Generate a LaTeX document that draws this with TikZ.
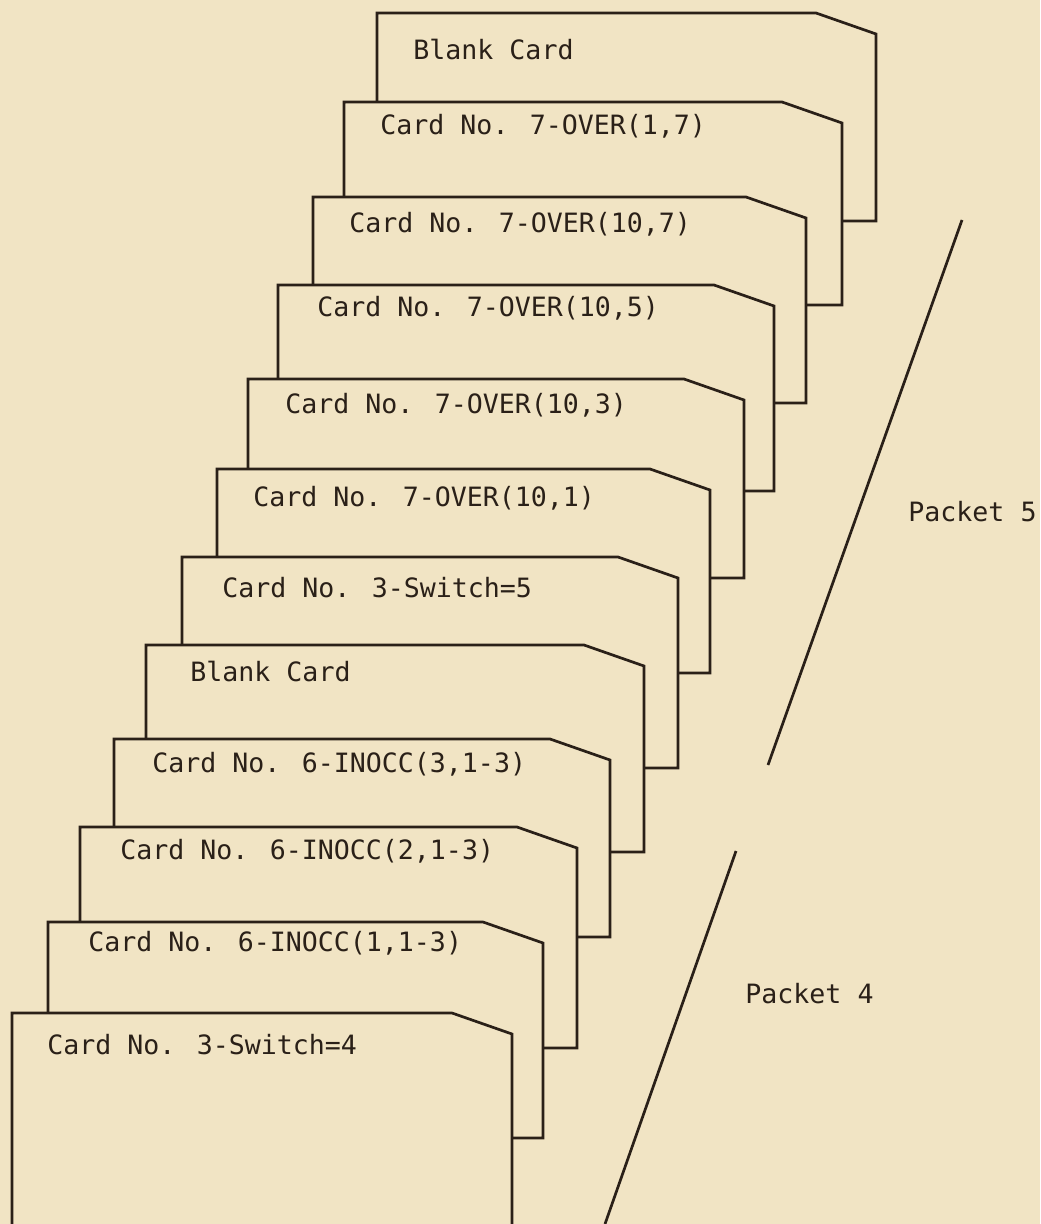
\documentclass[tikz,border=0pt]{standalone}
\usepackage{fontspec}
\newfontfamily\typew{DejaVu Sans Mono}
\definecolor{paper}{HTML}{F1E4C4}
\definecolor{ink}{HTML}{2A2018}
\newcommand\drawcard[4]{%
  \draw[cardline] (#1,#2) -- ({#3-60},#2) -- (#3,{#2+21}) -- (#3,#4) -- (#1,#4) -- cycle;}
\begin{document}
\begin{tikzpicture}[x={(0.5pt,0)}, y={(0,-0.5pt)},
  cardline/.style={draw=ink, line width=1.35pt, fill=paper, line join=miter},
  cardtext/.style={anchor=base west, inner sep=0pt, text=ink,
    font=\typew\fontsize{13.3pt}{16pt}\selectfont},
  packline/.style={draw=ink, line width=1.35pt}]
\clip (0,0) rectangle (1040,1224);
\fill[paper] (0,0) rectangle (1040,1224);
% cards, back to front
\drawcard{377}{13}{876}{221}
\drawcard{344}{102}{842}{305}
\drawcard{313}{197}{806}{403}
\drawcard{278}{285}{774}{491}
\drawcard{248}{379}{744}{578}
\drawcard{217}{469}{710}{673}
\drawcard{182}{557}{678}{768}
\drawcard{146}{645}{644}{852}
\drawcard{114}{739}{610}{937}
\drawcard{80}{827}{577}{1048}
\drawcard{48}{922}{543}{1138}
\drawcard{12}{1013}{512}{1300}
% card texts
\node[cardtext] (tA) at (413,60) {Blank Card};
\node[cardtext] (tB) at (380,135) {Card No. 7-OVER(1,7)};
\node[cardtext] (tC) at (349,233) {Card No. 7-OVER(10,7)};
\node[cardtext] (tD) at (317,317) {Card No. 7-OVER(10,5)};
\node[cardtext] (tE) at (285,414) {Card No. 7-OVER(10,3)};
\node[cardtext] (tF) at (253,506) {Card No. 7-OVER(10,1)};
\node[cardtext] (tG) at (222,597) {Card No. 3-Switch=5};
\node[cardtext] (tH) at (190,681) {Blank Card};
\node[cardtext] (tI) at (152,772) {Card No. 6-INOCC(3,1-3)};
\node[cardtext] (tJ) at (120,859) {Card No. 6-INOCC(2,1-3)};
\node[cardtext] (tK) at (88,951) {Card No. 6-INOCC(1,1-3)};
\node[cardtext] (tL) at (47,1054) {Card No. 3-Switch=4};
% packet brackets
\coordinate (p5a) at (962,220);
\coordinate (p5b) at (768,765);
\coordinate (p4a) at (736,851);
\coordinate (p4b) at (605,1224);
\draw[packline] (p5a) -- (p5b);
\draw[packline] (p4a) -- (p4b);
\node[cardtext] (pk5) at (908,521) {Packet 5};
\node[cardtext] (pk4) at (745,1003) {Packet 4};
\end{tikzpicture}
\end{document}
